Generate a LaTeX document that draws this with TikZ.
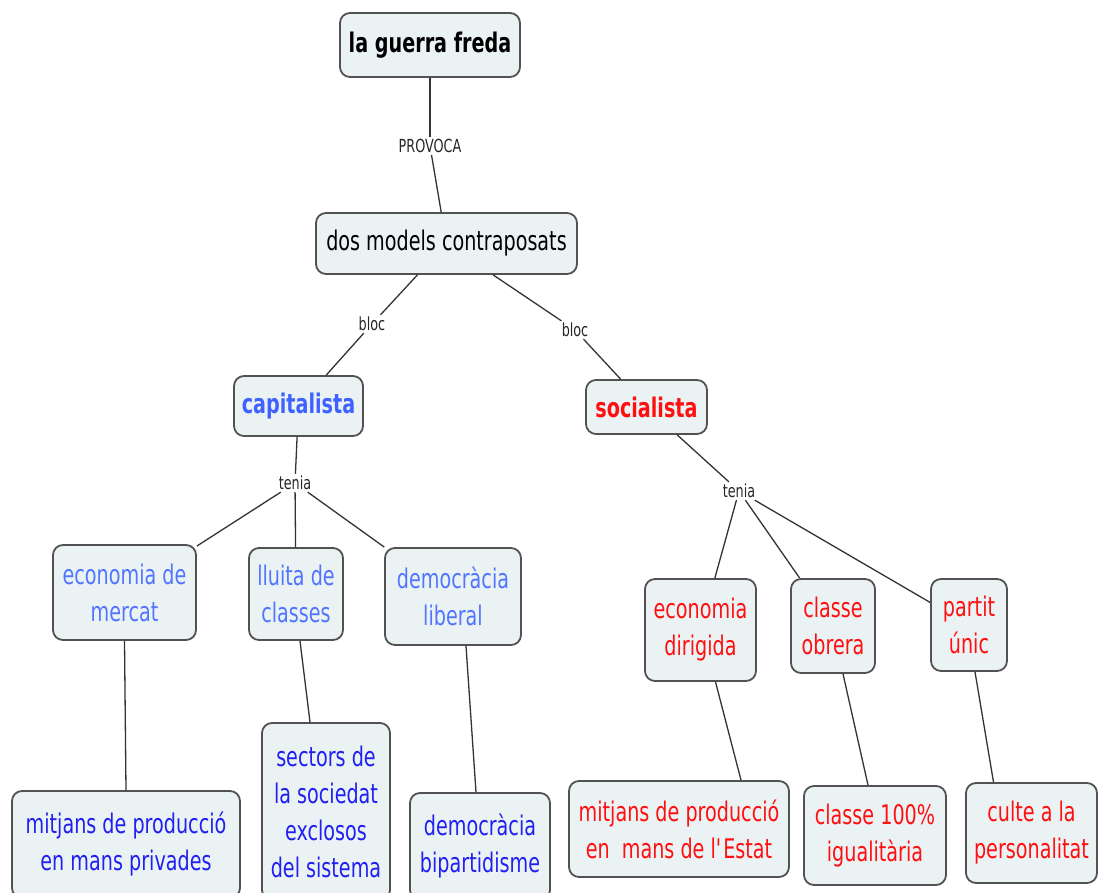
\documentclass[tikz,border=0pt]{standalone}
\usepackage{fontspec}
\setmainfont{DejaVu Sans}[FakeStretch=0.71]
\usepackage{tikz}
\definecolor{boxfill}{HTML}{EBF2F4}
\definecolor{capblue}{HTML}{3F62FF}
\definecolor{midblue}{HTML}{5275FF}
\definecolor{lowblue}{HTML}{2020F0}
\definecolor{socred}{HTML}{FF1010}
\definecolor{lineg}{HTML}{333333}

\begin{document}
\begin{tikzpicture}[x=1pt, y=-1pt,
    concept/.style={draw=lineg!85, line width=1.8pt, fill=boxfill, rounded corners=10pt,
        align=center, inner sep=0pt, font=\fontsize{27}{37}\selectfont},
    linkword/.style={inner sep=2pt, font=\fontsize{18}{20}\selectfont, text=black!85},
    link/.style={draw=lineg, line width=1.3pt}]
    \useasboundingbox (0,0) rectangle (1098,893);
    \node[concept, minimum width=180, minimum height=64, font=\fontsize{27}{37}\selectfont\bfseries] (guerra) at (430,45) {la guerra freda};
    \node[concept, minimum width=261, minimum height=61] (models) at (446.5,243.5) {dos models contraposats};
    \node[concept, minimum width=129, minimum height=60, text=capblue, font=\fontsize{27}{37}\selectfont\bfseries] (capit) at (298.5,406) {capitalista};
    \node[concept, minimum width=121, minimum height=54, text=socred, font=\fontsize{27}{37}\selectfont\bfseries] (socia) at (646.5,407) {socialista};
    \node[concept, minimum width=143, minimum height=95, text=midblue] (ecomerc) at (124.5,592.5) {economia de\\mercat};
    \node[concept, minimum width=94, minimum height=92, text=midblue] (lluita) at (296,594) {lluita de\\classes};
    \node[concept, minimum width=136, minimum height=97, text=midblue] (demlib) at (453,596.5) {democràcia\\liberal};
    \node[concept, minimum width=111, minimum height=102, text=socred] (ecodir) at (700.5,630) {economia\\dirigida};
    \node[concept, minimum width=84, minimum height=94, text=socred] (obrera) at (833,626) {classe\\obrera};
    \node[concept, minimum width=76, minimum height=92, text=socred] (partit) at (969,625) {partit\\únic};
    \node[concept, minimum width=228, minimum height=107, text=lowblue] (privades) at (126,844.5) {mitjans de producció\\en mans privades};
    \node[concept, minimum width=128, minimum height=177, text=lowblue] (sectors) at (326,811.5) {sectors de\\la sociedat\\exclosos\\del sistema};
    \node[concept, minimum width=140, minimum height=107, text=lowblue] (bipart) at (480,846.5) {democràcia\\bipartidisme};
    \node[concept, minimum width=220, minimum height=96, text=socred] (estat) at (679,829) {mitjans de producció\\en~ mans de l\textquotesingle Estat};
    \node[concept, minimum width=142, minimum height=99, text=socred] (igual) at (875,835.5) {classe 100\%\\igualitària};
    \node[concept, minimum width=131, minimum height=100, text=socred] (culte) at (1031.5,833) {culte a la\\personalitat};
    \node[linkword] (provoca) at (430,146) {PROVOCA};
    \node[linkword] (blocL) at (372,324) {bloc};
    \node[linkword] (blocR) at (575,330) {bloc};
    \node[linkword] (teniaL) at (295,483) {tenia};
    \node[linkword] (teniaR) at (739,491) {tenia};
    \draw[link] (guerra) -- (provoca);
    \draw[link] (provoca) -- (models);
    \draw[link] (models) -- (blocL);
    \draw[link] (blocL) -- (capit);
    \draw[link] (models) -- (blocR);
    \draw[link] (blocR) -- (socia);
    \draw[link] (capit) -- (teniaL);
    \draw[link] (teniaL) -- (ecomerc);
    \draw[link] (teniaL) -- (lluita);
    \draw[link] (teniaL) -- (demlib);
    \draw[link] (socia) -- (teniaR);
    \draw[link] (teniaR) -- (ecodir);
    \draw[link] (teniaR) -- (obrera);
    \draw[link] (teniaR) -- (partit);
    \draw[link] (ecomerc.south) -- (privades.north);
    \draw[link] ([xshift=4pt]lluita.south) -- ([xshift=-16pt]sectors.north);
    \draw[link] ([xshift=13pt]demlib.south) -- ([xshift=-4pt]bipart.north);
    \draw[link] ([xshift=15pt]ecodir.south) -- ([xshift=62pt]estat.north);
    \draw[link] ([xshift=10pt]obrera.south) -- ([xshift=-7pt]igual.north);
    \draw[link] ([xshift=6pt]partit.south) -- ([xshift=-38pt]culte.north);
\end{tikzpicture}
\end{document}
